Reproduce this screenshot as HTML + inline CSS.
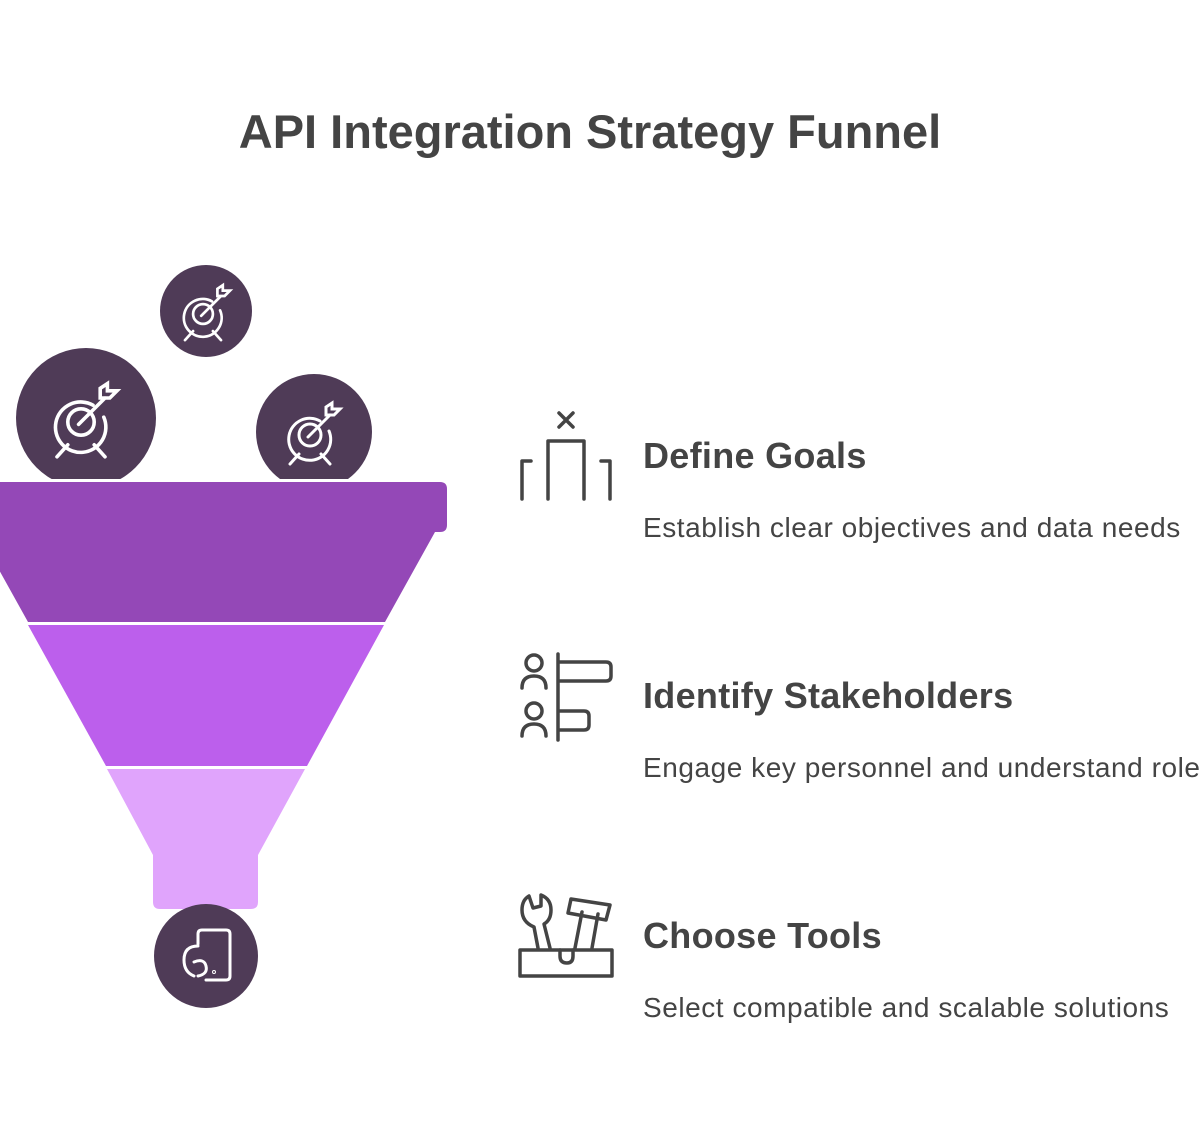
<!DOCTYPE html>
<html><head><style>
body{margin:0;width:1200px;height:1128px;background:#fff;overflow:hidden;position:relative;font-family:"Liberation Sans",sans-serif;color:#444}
.t{position:absolute;white-space:nowrap}
h1{position:absolute;margin:0;left:0;width:1180px;text-align:center;top:104px;font-size:47px;font-weight:bold;color:#444}
.h{font-size:36px;font-weight:bold;left:643px;letter-spacing:0.3px}
.d{font-size:28px;left:643px;color:#444;letter-spacing:0.55px}
</style></head><body>
<h1>API Integration Strategy Funnel</h1>
<svg width="1200" height="1128" style="position:absolute;left:0;top:0">
<defs>
<g id="tg" fill="none" stroke="#fff" stroke-width="3" stroke-linecap="round">
<path d="M10,-14 A21,21 0 1 0 19,-4"/>
<circle r="11"/>
<path d="M-2,2 L20,-20 M16,-28 L16,-20 L24,-20 L30,-26 L22,-26 L22,-32 Z M-11,19 L-20,29 M11,19 L20,29"/>
</g>
<clipPath id="cl"><rect x="0" y="0" width="1200" height="479"/></clipPath>
</defs>
<g fill="#4f3b57" clip-path="url(#cl)">
<circle cx="206" cy="311" r="46"/>
<circle cx="86" cy="418" r="70"/>
<circle cx="314" cy="432" r="58"/>
</g>
<use href="#tg" transform="translate(203,314) scale(0.9)"/>
<use href="#tg" transform="translate(81,422) scale(1.2)"/>
<use href="#tg" transform="translate(310,435) scale(1.0)"/>
<path d="M-30,482 H440 Q447,482 447,489 V525 Q447,532 440,532 H435 L385,622 H28 L-22,532 H-30 Z" fill="#9448b7"/>
<path d="M28,625 H384 L307,766 H106 Z" fill="#bc5fec"/>
<path d="M107,769 H305 L258,855 V902 Q258,909 251,909 H160 Q153,909 153,902 V855 Z" fill="#e0a4fc"/>
<circle cx="206" cy="956" r="52" fill="#4f3b57"/>
<g fill="none" stroke="#fff" stroke-width="3" stroke-linecap="round" stroke-linejoin="round">
<path d="M198,944 V934 Q198,930 202,930 H226 Q230,930 230,934 V976 Q230,980 226,980 H206"/>
<path d="M198,946 Q184,946 184,960 Q184,972 194,976 M194,962 Q204,958 206,966 Q208,974 198,976"/>
<circle cx="214" cy="972" r="0.5"/>
</g>
<g fill="none" stroke="#444" stroke-width="3.5" stroke-linecap="round" stroke-linejoin="round">
<path d="M559,413 L573,427 M573,413 L559,427"/>
<path d="M522,499 V461 H531 M548,499 V441 H584 V499 M610,499 V461 H601"/>
<circle cx="534" cy="663" r="8"/><path d="M522,688 Q522,676 534,676 Q546,676 546,688"/>
<circle cx="534" cy="711" r="8"/><path d="M522,736 Q522,724 534,724 Q546,724 546,736"/>
<path d="M558,654 V740 M558,662 H606 Q611,662 611,667 V676 Q611,681 606,681 H558 M558,711 H584 Q589,711 589,716 V725 Q589,730 584,730 H558"/>
<path d="M520,950 H612 V976 H520 Z"/>
<path d="M538,948 L534,927 Q522,922 522,910 Q522,900 529,896 L533,908 L541,906 L541,895 Q551,899 551,910 Q551,920 544,924 L550,948"/>
<path d="M560,950 V956 Q560,963 567,963 Q573,963 573,956 V950"/>
<path d="M575,948 L582,912 M592,948 L598,914 M568,913 L571,899 L610,905 L606,920 L568,913"/>
</g>
</svg>
<div class="t h" style="top:435px">Define Goals</div>
<div class="t d" style="top:512px">Establish clear objectives and data needs</div>
<div class="t h" style="top:675px">Identify Stakeholders</div>
<div class="t d" style="top:752px">Engage key personnel and understand roles</div>
<div class="t h" style="top:915px">Choose Tools</div>
<div class="t d" style="top:992px">Select compatible and scalable solutions</div>
</body></html>
